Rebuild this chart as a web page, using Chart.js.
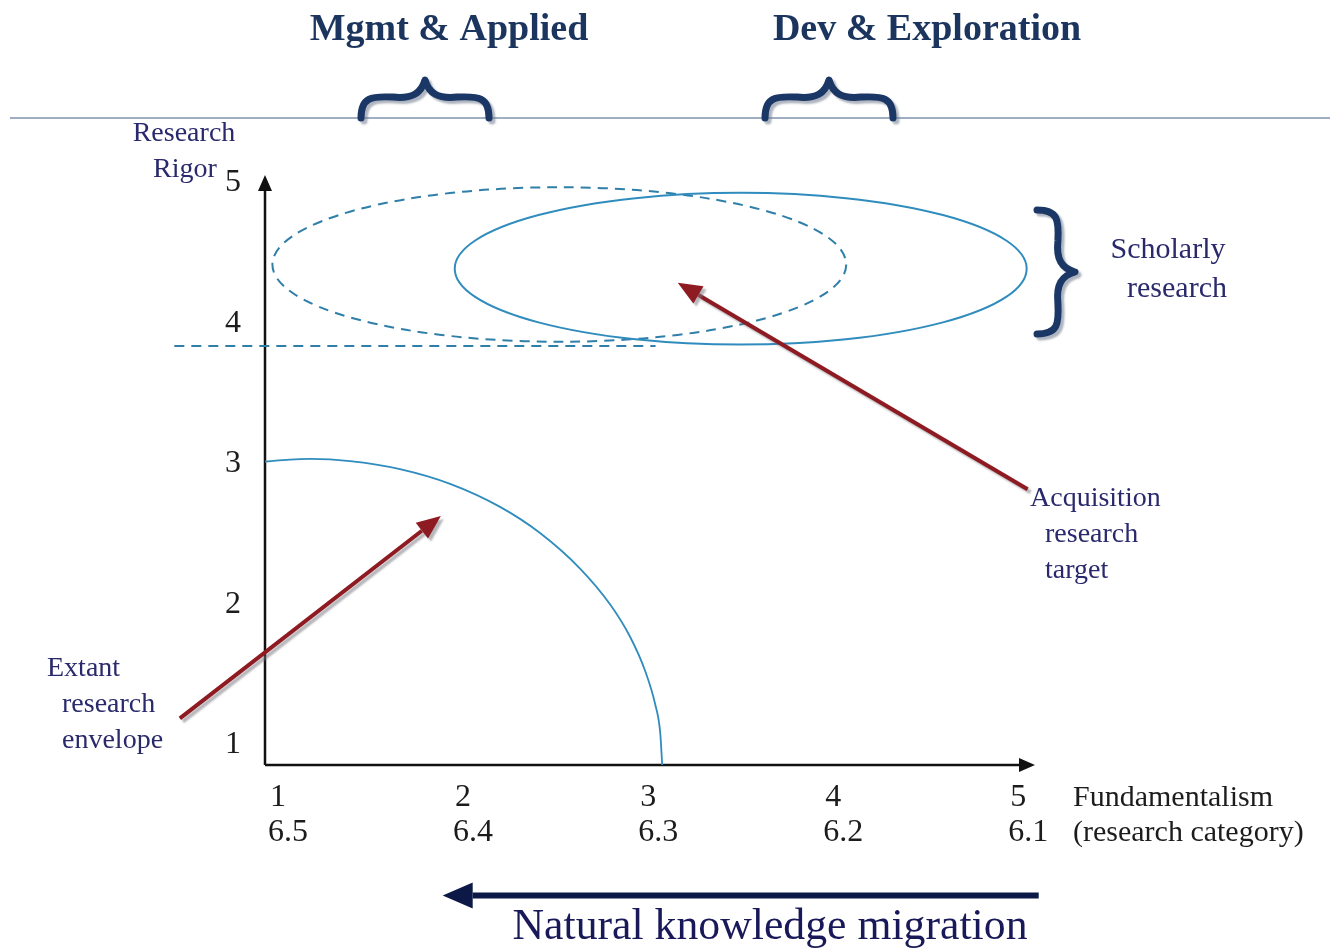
<!DOCTYPE html>
<html>
<head>
<meta charset="utf-8">
<script src="https://cdn.jsdelivr.net/npm/chart.js@4.4.1/dist/chart.umd.min.js"></script>
<style>
  html, body { margin: 0; padding: 0; background: #fff; }
  #wrap { width: 1330px; height: 950px; }
</style>
</head>
<body>
<div id="wrap"><canvas id="rigorChart" width="1330" height="950"></canvas></div>
<script>
// axis ticks
const xTicks = [1, 2, 3, 4, 5];
const xCategoryTicks = ['6.5', '6.4', '6.3', '6.2', '6.1'];
const yTicks = [1, 2, 3, 4, 5];

// extant research envelope
const envelopeX = [0.930, 1.065, 1.173, 1.389, 1.659, 1.930, 2.200, 2.416, 2.632, 2.795, 2.903, 2.984, 3.038, 3.065, 3.076];
const envelopeY = [3.018, 3.032, 3.036, 3.021, 2.964, 2.859, 2.695, 2.509, 2.256, 2.000, 1.769, 1.527, 1.290, 1.090, 0.858];

// dashed rigor threshold
const thresholdX = [0.44, 3.04];
const thresholdY = [3.84, 3.84];

// ellipses: [dashed scholarly, solid acquisition target]
const ellipseCenterX = [2.52, 3.50];
const ellipseCenterY = [4.42, 4.39];
const ellipseRadiusX = [1.55, 1.545];
const ellipseRadiusY = [0.55, 0.54];

// red pointer arrows (from -> to)
const extantArrowX = [0.47, 1.88];
const extantArrowY = [1.19, 2.63];
const targetArrowX = [5.05, 3.16];
const targetArrowY = [2.82, 4.29];

// migration arrow under the axis
const migrationArrowX = [5.11, 1.89];
const migrationArrowY = [-0.07, -0.07];

const SERIF = '"Liberation Serif", "DejaVu Serif", serif';

function toPoints(xs, ys) {
    return xs.map((x, i) => ({ x: x, y: ys[i] }));
}

function drawBrace(ctx, cx, cy, len, depth, angle) {
    // brace with tip at (cx, cy) pointing "up" before rotation
    ctx.save();
    ctx.translate(cx, cy);
    ctx.rotate(angle);
    ctx.lineCap = 'round';
    ctx.lineJoin = 'round';
    ctx.strokeStyle = '#1b3766';
    ctx.lineWidth = 7;
    ctx.shadowColor = 'rgba(110,120,140,0.55)';
    ctx.shadowOffsetX = 3;
    ctx.shadowOffsetY = 3;
    ctx.shadowBlur = 2;
    const h = len / 2;
    ctx.beginPath();
    ctx.moveTo(-h, depth);
    ctx.bezierCurveTo(-h, depth * 0.45, -h + len * 0.08, depth * 0.42, -h * 0.5, depth * 0.45);
    ctx.bezierCurveTo(-h * 0.2, depth * 0.5, -h * 0.06, depth * 0.35, 0, 0);
    ctx.bezierCurveTo(h * 0.06, depth * 0.35, h * 0.2, depth * 0.5, h * 0.5, depth * 0.45);
    ctx.bezierCurveTo(h - len * 0.08, depth * 0.42, h, depth * 0.45, h, depth);
    ctx.stroke();
    ctx.restore();
}

function drawArrow(ctx, x0, y0, x1, y1, color, width, headLen, headHalf, shadow) {
    const ang = Math.atan2(y1 - y0, x1 - x0);
    const bx = x1 - Math.cos(ang) * headLen;
    const by = y1 - Math.sin(ang) * headLen;
    ctx.save();
    if (shadow) {
        ctx.shadowColor = 'rgba(120,120,130,0.55)';
        ctx.shadowOffsetX = 3;
        ctx.shadowOffsetY = 3;
        ctx.shadowBlur = 2;
    }
    ctx.strokeStyle = color;
    ctx.fillStyle = color;
    ctx.lineWidth = width;
    ctx.beginPath();
    ctx.moveTo(x0, y0);
    ctx.lineTo(bx, by);
    ctx.stroke();
    ctx.beginPath();
    ctx.moveTo(x1, y1);
    ctx.lineTo(bx - Math.sin(ang) * headHalf, by + Math.cos(ang) * headHalf);
    ctx.lineTo(bx + Math.sin(ang) * headHalf, by - Math.cos(ang) * headHalf);
    ctx.closePath();
    ctx.fill();
    ctx.restore();
}

function text(ctx, str, x, y, font, color, align, maxW) {
    ctx.font = font;
    ctx.fillStyle = color;
    ctx.textAlign = align || 'left';
    ctx.textBaseline = 'middle';
    if (maxW) ctx.fillText(str, x, y, maxW); else ctx.fillText(str, x, y);
}

const diagramPlugin = {
    id: 'diagram',
    beforeDatasetsDraw(chart) {
        const ctx = chart.ctx;
        const xs = chart.scales.x, ys = chart.scales.y;
        const area = chart.chartArea;

        // top separator
        ctx.save();
        ctx.strokeStyle = '#7f93ae';
        ctx.lineWidth = 1.5;
        ctx.beginPath();
        ctx.moveTo(10, 118);
        ctx.lineTo(1330, 118);
        ctx.stroke();
        ctx.restore();

        // axes with arrowheads
        ctx.save();
        ctx.strokeStyle = '#111';
        ctx.fillStyle = '#111';
        ctx.lineWidth = 2.5;
        ctx.beginPath();
        ctx.moveTo(area.left, area.bottom);
        ctx.lineTo(area.left, area.top + 12);
        ctx.moveTo(area.left, area.bottom);
        ctx.lineTo(area.right - 12, area.bottom);
        ctx.stroke();
        ctx.beginPath();
        ctx.moveTo(area.left, area.top);
        ctx.lineTo(area.left - 7, area.top + 16);
        ctx.lineTo(area.left + 7, area.top + 16);
        ctx.closePath();
        ctx.fill();
        ctx.beginPath();
        ctx.moveTo(area.right, area.bottom);
        ctx.lineTo(area.right - 16, area.bottom - 7);
        ctx.lineTo(area.right - 16, area.bottom + 7);
        ctx.closePath();
        ctx.fill();
        ctx.restore();

        // ellipses
        ellipseCenterX.forEach((cx, i) => {
            const px = xs.getPixelForValue(cx);
            const py = ys.getPixelForValue(ellipseCenterY[i]);
            const rx = xs.getPixelForValue(cx + ellipseRadiusX[i]) - px;
            const ry = py - ys.getPixelForValue(ellipseCenterY[i] + ellipseRadiusY[i]);
            ctx.save();
            ctx.strokeStyle = i === 0 ? '#2f7fa9' : '#2f8cbd';
            ctx.lineWidth = 2;
            ctx.setLineDash(i === 0 ? [10, 7] : []);
            ctx.beginPath();
            ctx.ellipse(px, py, rx, ry, 0, 0, Math.PI * 2);
            ctx.stroke();
            ctx.restore();
        });
    },
    afterDatasetsDraw(chart) {
        const ctx = chart.ctx;
        const xs = chart.scales.x, ys = chart.scales.y;
        const area = chart.chartArea;
        const px = v => xs.getPixelForValue(v);
        const py = v => ys.getPixelForValue(v);

        // red pointer arrows
        drawArrow(ctx, px(extantArrowX[0]), py(extantArrowY[0]), px(extantArrowX[1]), py(extantArrowY[1]),
            '#8e1a22', 4, 24, 10, true);
        drawArrow(ctx, px(targetArrowX[0]), py(targetArrowY[0]), px(targetArrowX[1]), py(targetArrowY[1]),
            '#8e1a22', 4, 24, 10, true);

        // migration arrow
        drawArrow(ctx, px(migrationArrowX[0]), py(migrationArrowY[0]), px(migrationArrowX[1]), py(migrationArrowY[1]),
            '#0c1846', 6, 30, 13, false);

        // braces
        drawBrace(ctx, 425, 80, 128, 38, 0);
        drawBrace(ctx, 829, 80, 128, 38, 0);
        drawBrace(ctx, 1075, 272, 124, 38, Math.PI / 2);

        // tick labels
        const tickFont = '32px ' + SERIF;
        yTicks.forEach(v => text(ctx, String(v), area.left - 24, py(v), tickFont, '#1c1c1c', 'right'));
        xTicks.forEach((v, i) => {
            text(ctx, String(v), px(v) - 8, area.bottom + 33, tickFont, '#1c1c1c', 'left');
            text(ctx, xCategoryTicks[i], px(v) - 10, area.bottom + 68, tickFont, '#1c1c1c', 'left');
        });
        text(ctx, 'Fundamentalism', 1073, area.bottom + 33, '30px ' + SERIF, '#1c1c1c', 'left', 220);
        text(ctx, '(research category)', 1073, area.bottom + 68, '30px ' + SERIF, '#1c1c1c', 'left', 255);

        // titles
        const titleFont = 'bold 38px ' + SERIF;
        text(ctx, 'Mgmt & Applied', 449, 30, titleFont, '#1c355e', 'center', 297);
        text(ctx, 'Dev & Exploration', 927, 30, titleFont, '#1c355e', 'center', 326);

        // annotations
        const noteFont = '28px ' + SERIF;
        const noteColor = '#29296c';
        text(ctx, 'Research', 184, 134, noteFont, noteColor, 'center', 108);
        text(ctx, 'Rigor', 185, 170, noteFont, noteColor, 'center', 66);
        text(ctx, 'Scholarly', 1168, 250, '30px ' + SERIF, noteColor, 'center', 127);
        text(ctx, 'research', 1177, 289, '30px ' + SERIF, noteColor, 'center', 112);
        text(ctx, 'Acquisition', 1030, 499, noteFont, noteColor, 'left', 137);
        text(ctx, 'research', 1045, 535, noteFont, noteColor, 'left', 98);
        text(ctx, 'target', 1045, 571, noteFont, noteColor, 'left', 68);
        text(ctx, 'Extant', 47, 669, noteFont, noteColor, 'left', 78);
        text(ctx, 'research', 62, 705, noteFont, noteColor, 'left', 98);
        text(ctx, 'envelope', 62, 741, noteFont, noteColor, 'left', 106);

        text(ctx, 'Natural knowledge migration', 770, 927, '45px ' + SERIF, '#19195a', 'center', 515);
    }
};

new Chart(document.getElementById('rigorChart'), {
    type: 'scatter',
    data: {
        datasets: [
            {
                label: 'Extant research envelope',
                data: toPoints(envelopeX, envelopeY),
                showLine: true,
                borderColor: '#2f8cbd',
                borderWidth: 1.8,
                pointRadius: 0,
                cubicInterpolationMode: 'monotone',
                clip: false
            },
            {
                label: 'Rigor threshold',
                data: toPoints(thresholdX, thresholdY),
                showLine: true,
                borderColor: '#2f7fa9',
                borderWidth: 2,
                borderDash: [10, 7],
                pointRadius: 0,
                clip: false
            }
        ]
    },
    options: {
        responsive: false,
        animation: false,
        events: [],
        layout: { padding: { left: 265, right: 295, top: 175, bottom: 185 } },
        scales: {
            x: { type: 'linear', min: 0.93, max: 5.09, display: false },
            y: { type: 'linear', min: 0.858, max: 5.057, display: false }
        },
        plugins: {
            legend: { display: false },
            tooltip: { enabled: false }
        }
    },
    plugins: [diagramPlugin]
});
</script>
</body>
</html>
